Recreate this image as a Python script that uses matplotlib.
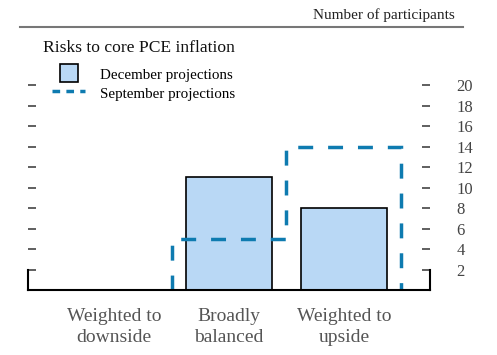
import matplotlib.pyplot as plt
import numpy as np
from matplotlib.lines import Line2D

plt.rcParams['font.family'] = ['Liberation Serif', 'DejaVu Serif']

# data
categories = ['Weighted to\ndownside', 'Broadly\nbalanced', 'Weighted to\nupside']
december = [0, 11, 8]
september = [0, 5, 14]
yticks = [2, 4, 6, 8, 10, 12, 14, 16, 18, 20]

blue = '#0e7bb0'
fill = '#b9d8f5'

fig = plt.figure(figsize=(4.97, 3.55), dpi=100)
ax = fig.add_axes([28 / 497, 65 / 355, 402 / 497, 0.63])

x = np.arange(len(categories))
ax.bar(x, december, width=0.75, color=fill, edgecolor='black', linewidth=1.2, zorder=2)

# September outline, skip the leading zero bin so it doesn't cover the axis
edges = np.arange(len(categories) + 1) - 0.5
ax.stairs(september[1:], edges[1:], baseline=0, color=blue, linewidth=2.5,
          linestyle=(0, (4.3, 4.3)), zorder=3)

ax.set_xlim(-0.75, 2.75)
ax.set_ylim(0, (290.7 - 65) / 10.33)  # leave room for the legend above

ax.set_xticks(x)
ax.set_xticklabels(categories, fontsize=14, color='#555555', linespacing=1.3)
ax.tick_params(axis='x', length=0, pad=13)

ax.set_yticks(yticks)
ax.tick_params(axis='y', which='both', direction='in', length=6, width=1.2,
               color='#444444', left=True, right=True, labelleft=False,
               labelright=True, labelsize=12, labelcolor='#444444', pad=19)

ax.spines['top'].set_visible(False)
ax.spines['left'].set_bounds(0, 2)
ax.spines['right'].set_bounds(0, 2)
for side in ['left', 'right', 'bottom']:
    ax.spines[side].set_linewidth(1.5)
    ax.spines[side].set_zorder(4)

# header rule and unit note
fig.add_artist(Line2D([20 / 497, 463 / 497], [1 - 27 / 355, 1 - 27 / 355],
                      color='#777777', linewidth=1.5))
fig.text(455 / 497, 1 - 15 / 355, 'Number of participants', ha='right', va='center',
         fontsize=11, color='#222222')
fig.text(43 / 497, 1 - 48 / 355, 'Risks to core PCE inflation', ha='left', va='center',
         fontsize=12.6, color='#111111')

handles = [Line2D([], [], marker='s', markersize=13, markerfacecolor=fill,
                  markeredgecolor='black', markeredgewidth=1.2, linestyle='none'),
           Line2D([0], [0], color=blue, linewidth=2.5, linestyle=(0, (2.2, 1.8)))]
fig.legend(handles, ['December projections', 'September projections'],
           loc='upper left', bbox_to_anchor=(46 / 497, 1 - 60 / 355), frameon=False,
           fontsize=10.8, handlelength=2.2, handleheight=1.3, handletextpad=1.0,
           labelspacing=0.15, borderaxespad=0)

fig.savefig('out.png', dpi=100)
